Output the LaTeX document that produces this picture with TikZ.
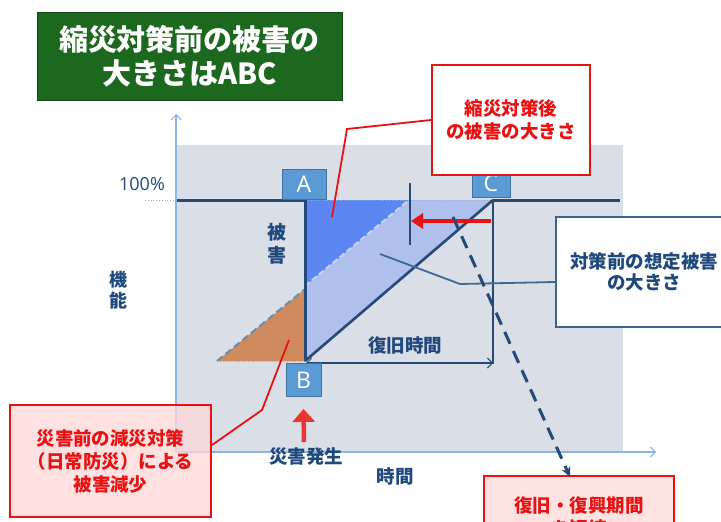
\documentclass[tikz,border=0pt]{standalone}
\usepackage{fontspec}
\setmainfont{Noto Sans CJK JP}
\newfontfamily\latf{Open Sans}
\usetikzlibrary{arrows.meta}
\definecolor{titlegreen}{RGB}{28,104,30}
\definecolor{plotgray}{RGB}{217,222,231}
\definecolor{dkblue}{RGB}{38,74,120}
\definecolor{txtblue}{RGB}{31,73,125}
\definecolor{lblblue}{RGB}{91,155,213}
\definecolor{lbledge}{RGB}{65,113,156}
\definecolor{paleblue}{RGB}{176,192,236}
\definecolor{brightblue}{RGB}{92,134,242}
\definecolor{orng}{RGB}{207,138,94}
\definecolor{redc}{RGB}{232,18,18}
\definecolor{axisblue}{RGB}{141,179,226}
\definecolor{pinkfill}{RGB}{255,215,215}
\begin{document}
\begin{tikzpicture}[x=1pt,y=-1pt,
  lbl/.style={draw=lbledge,line width=0.8pt,fill=lblblue,text=white,font=\latf\fontsize{23}{25}\selectfont,inner sep=0pt},
  redbox/.style={draw=redc,line width=2pt,align=center,text=redc,font=\fontsize{18.5}{23}\selectfont\bfseries,inner sep=0pt},
  bluetxt/.style={text=txtblue,font=\fontsize{18.5}{22}\selectfont\bfseries,inner sep=0pt},
  redline/.style={draw=redc,line width=1.8pt},
  thick line/.style={draw=dkblue,line width=3pt},
  barb/.style={-{Straight Barb[length=5pt,width=10pt,line width=1pt]}}
]
\path[use as bounding box] (0,0) rectangle (721,522);
\clip (0,0) rectangle (721,522);
\fill[white] (0,0) rectangle (721,522);

% title
\node[fill=titlegreen,draw=titlegreen!70!black,line width=0.6pt,minimum width=305pt,minimum height=88pt,
  text=white,align=center,font=\fontsize{29}{34}\selectfont\bfseries,inner sep=0pt] (title) at (189.5,56)
  {縮災対策前の被害の\\大きさはABC};

% plot area
\fill[plotgray] (177,145) rectangle (623,452);
\coordinate (O) at (176,452);
\coordinate (ytop) at (176,114);
\coordinate (xend) at (656,452);
\draw[axisblue,line width=1.2pt,barb] (O) -- (ytop);
\draw[axisblue,line width=1.2pt,barb] (O) -- (xend);

% key points
\coordinate (Ap) at (305,200);
\coordinate (Bp) at (305,361);
\coordinate (Cp) at (493,200);
\coordinate (Dm) at (305,286);
\coordinate (Dt) at (409,200);
\coordinate (Ol) at (217,361);
\coordinate (Ot) at (305,289);

% fills
\fill[paleblue] (Ap) -- (Bp) -- (Cp) -- cycle;
\fill[brightblue] (Ap) -- (Dm) -- (Dt) -- cycle;
\fill[orng] (Ol) -- (Bp) -- (Ot) -- cycle;
\draw[color=paleblue!70!white,line width=2pt,dash pattern=on 6pt off 3pt] (Dm) -- (Dt);
\draw[color=lbledge!80!white,line width=2pt,dash pattern=on 7pt off 4pt] (Ol) -- (Ot);
\draw[axisblue,line width=0.8pt,dotted] (Ol) -- (Bp);

% 100% level
\coordinate (h0) at (145,200);
\coordinate (h1) at (176,200);
\draw[axisblue,line width=0.8pt,dotted] (h0) -- (h1);
\draw[axisblue,line width=0.8pt,dotted] (Ap) -- (Cp);
\node[text=txtblue,font=\latf\fontsize{18}{20}\selectfont] (pct) at (142,184) {100\%};

% thick function line
\coordinate (L0) at (177,200);
\coordinate (R0) at (620,200);
\draw[thick line,line join=miter] (L0) -- (Ap) -- (Bp);
\draw[draw=dkblue,line width=2.6pt] (Bp) -- (Cp);
\draw[thick line] (Cp) -- (R0);
\coordinate (Cv) at (493,364);
\draw[dkblue,line width=1.6pt] (Cp) -- (Cv);

% recovery time arrow
\coordinate (rt0) at (306,363);
\coordinate (rt1) at (493,363);
\draw[dkblue,line width=1.2pt,{Straight Barb[length=5pt,width=10pt,line width=1pt]}-{Straight Barb[length=5pt,width=10pt,line width=1pt]}] (rt0) -- (rt1);
\node[bluetxt] (rtl) at (405,345) {復旧時間};

% labels A B C
\node[lbl,minimum width=44pt,minimum height=30pt] (A) at (304,184) {A};
\node[lbl,minimum width=35pt,minimum height=33pt] (B) at (303.5,380) {B};
\node[lbl,minimum width=38pt,minimum height=28pt] (C) at (491,183) {C};

% vertical texts
\node[bluetxt,align=center,font=\fontsize{19}{23}\selectfont\bfseries] (higai) at (277,244) {被\\害};
\node[bluetxt,align=center,font=\fontsize{18}{21}\selectfont\bfseries] (kinou) at (118,290) {機\\能};
\node[bluetxt] (jikan) at (395,476) {時間};
\node[bluetxt] (hassei) at (306,457) {災害発生};

% red up arrow
\coordinate (ua) at (304,442);
\draw[redc!85!white,line width=4.5pt,-{Triangle[length=13pt,width=22pt]}] (ua) -- ([yshift=-12pt]B.south);

% tick and red left arrow
\coordinate (t0) at (410,183);
\coordinate (t1) at (410,245);
\draw[dkblue,line width=1.4pt] (t0) -- (t1);
\coordinate (ra0) at (491,221);
\coordinate (ra1) at (411,221);
\draw[redc,line width=4pt,-{Triangle[length=12pt,width=15pt]}] (ra0) -- (ra1);

% callout: after countermeasure
\node[redbox,fill=white,minimum width=158pt,minimum height=110pt] (cafter) at (511,120) {縮災対策後\\の被害の大きさ};
\coordinate (ca1) at (347,129);
\coordinate (ca2) at (332,217);
\draw[redline] (cafter.west) -- (ca1) -- (ca2);

% callout: assumed damage before
\node[draw=lbledge!70!dkblue,line width=2pt,fill=white,minimum width=176pt,minimum height=110pt,
  align=center,text=txtblue,font=\fontsize{18.5}{21}\selectfont\bfseries,inner sep=0pt] (cbefore) at (644,272)
  {対策前の想定被害\\の大きさ};
\coordinate (cb1) at (460,284);
\coordinate (cb2) at (380,254);
\draw[draw=lbledge!80!dkblue,line width=1.8pt] ([yshift=-10pt]cbefore.west) -- (cb1) -- (cb2);

% callout: pre-disaster
\node[redbox,fill=pinkfill,fill opacity=0.75,text opacity=1,minimum width=201pt,minimum height=112pt] (cpre) at (110.5,461)
  {災害前の減災対策\\（日常防災）による\\被害減少};
\coordinate (cp1) at (262,410);
\coordinate (cp2) at (289,340);
\draw[redline] ([yshift=16pt]cpre.east) -- (cp1) -- (cp2);

% dashed arrow to recovery box
\node[redbox,fill=pinkfill!70!white,minimum width=190pt,minimum height=82pt] (crec) at (579,517)
  {復旧・復興期間\\を短縮};
\coordinate (d0) at (453,217);
\draw[dkblue,line width=3pt,dash pattern=on 13pt off 8pt,-{Stealth[length=10pt,width=9pt]}] (d0) -- ([xshift=-9pt,yshift=-2pt]crec.north);
\end{tikzpicture}
\end{document}
